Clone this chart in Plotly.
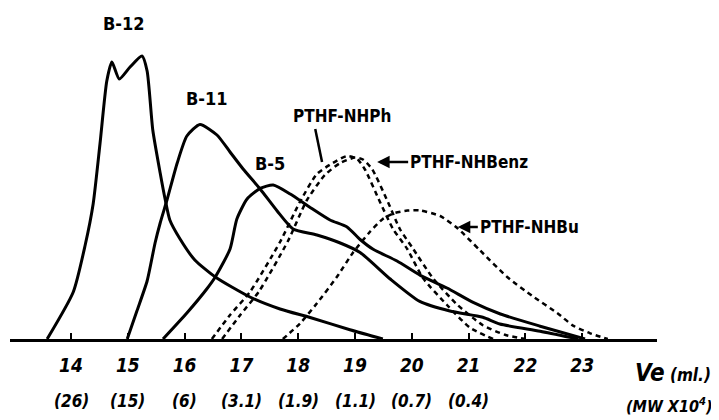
import plotly.graph_objects as go

# ---------------- data (elution volume Ve in ml, detector response in arbitrary units) -------------
b12_ve = [13.58, 14.04, 14.25, 14.39, 14.51, 14.63, 14.72, 14.85, 15.04, 15.25, 15.34, 15.44,
          15.57, 15.66, 15.74, 15.92, 16.18, 16.54, 17.15, 17.68, 18.21, 18.91, 19.49]
b12_h = [0, 47, 94, 135, 195, 258, 277, 260, 272, 283, 268, 209,
         166, 139, 119, 100, 79, 62, 42, 30, 21.5, 9.3, 0]

b11_ve = [14.99, 15.16, 15.34, 15.48, 15.57, 15.69, 15.87, 16.04, 16.27, 16.57, 16.80, 17.03,
          17.33, 17.63, 17.91, 18.33, 18.74, 19.09, 19.62, 20.14, 20.67, 21.25, 21.55, 22.26, 22.93]
b11_h = [0, 28, 58, 96, 116, 139, 176, 203, 214.5, 204, 187, 170,
         150, 128, 110, 104, 96, 86.5, 60, 37.6, 28, 21.8, 15, 7.8, 0]

b5_ve = [15.62, 16.04, 16.39, 16.54, 16.80, 16.92, 17.10, 17.33, 17.56, 17.86, 18.21, 18.56,
         18.86, 19.09, 19.32, 19.74, 20.15, 20.62, 21.08, 21.56, 22.26, 23.05]
b5_h = [0, 26, 50, 62, 90, 120, 140, 150.6, 154, 145, 131.6, 119,
        112, 99.5, 89.7, 78, 63.6, 51, 36.6, 25, 12.8, 0]

nhph_ve = [16.48, 16.80, 17.15, 17.68, 18.03, 18.33, 18.61, 18.86, 19.04, 19.18, 19.44, 19.67,
           19.92, 20.20, 20.62, 21.02, 21.43]
nhph_h = [0, 24, 47, 97, 137, 165, 176, 183, 180, 169, 137, 110,
          90, 60.6, 34, 11.5, 0]

nhbenz_ve = [16.66, 16.98, 17.31, 17.82, 18.15, 18.47, 18.74, 19.00, 19.14, 19.30, 19.58, 19.79,
             20.02, 20.37, 20.80, 21.25, 21.64, 22.00]
nhbenz_h = [0, 24, 47.6, 98, 138.5, 164, 176, 181.4, 179.5, 170, 137, 110,
            90.5, 61, 34.3, 13.8, 4.2, 0]

nhbu_ve = [17.73, 18.03, 18.33, 18.68, 18.96, 19.26, 19.49, 19.70, 19.92, 20.14, 20.50, 20.80,
           21.20, 21.68, 22.13, 22.56, 22.84, 23.14, 23.45]
nhbu_h = [0, 15.4, 35.7, 62, 86, 107, 120, 126, 128.4, 128.6, 123, 111,
          88.7, 62, 42.7, 26, 13.4, 5.7, 0]

ve_ticks = [14, 15, 16, 17, 18, 19, 20, 21, 22, 23]
ve_ticktext = ["14", "15", "16", "17", "18", "19", "20", "21", "22", "23"]
mw_ve = [14, 15, 16, 17, 18, 19, 20, 21]
mw_text = ["(26)", "(15)", "(6)", "(3.1)", "(1.9)", "(1.1)", "(0.7)", "(0.4)"]

# ---------------- figure -------------
# The page body has an 8 px default margin, so the figure is made 8 px smaller
# in each direction to fill the 719x420 window exactly.
FONT = "DejaVu Sans Condensed, Liberation Sans Narrow, DejaVu Sans, sans-serif"

fig = go.Figure()

solid = dict(color="black", width=3, shape="spline", smoothing=0.6)
dashed = dict(color="black", width=2.5, shape="spline", smoothing=0.6, dash="5px,4px")

fig.add_trace(go.Scatter(x=b12_ve, y=b12_h, mode="lines", line=solid, name="B-12"))
fig.add_trace(go.Scatter(x=b11_ve, y=b11_h, mode="lines", line=solid, name="B-11"))
fig.add_trace(go.Scatter(x=b5_ve, y=b5_h, mode="lines", line=solid, name="B-5"))
fig.add_trace(go.Scatter(x=nhph_ve, y=nhph_h, mode="lines", line=dashed, name="PTHF-NHPh"))
fig.add_trace(go.Scatter(x=nhbenz_ve, y=nhbenz_h, mode="lines", line=dashed, name="PTHF-NHBenz"))
fig.add_trace(go.Scatter(x=nhbu_ve, y=nhbu_h, mode="lines", line=dashed, name="PTHF-NHBu"))

lab_font = dict(family=FONT, size=18, color="black", weight="bold")
pt_font = dict(family=FONT, size=17, color="black", weight="bold")

annotations = [
    dict(x=14.93, y=316, text="B-12", showarrow=False, font=lab_font),
    dict(x=16.39, y=241, text="B-11", showarrow=False, font=lab_font),
    dict(x=17.50, y=176, text="B-5", showarrow=False, font=lab_font),
    dict(x=18.77, y=223, text="PTHF-NHPh", showarrow=False, font=pt_font),
    dict(x=19.39, y=177, text="PTHF-NHBenz", showarrow=True, arrowhead=2, arrowsize=1,
         arrowwidth=2.5, arrowcolor="black", ax=31, ay=0, xanchor="left", font=pt_font),
    dict(x=20.81, y=112, text="PTHF-NHBu", showarrow=True, arrowhead=2, arrowsize=1,
         arrowwidth=2.5, arrowcolor="black", ax=20, ay=0, xanchor="left", font=pt_font),
]

mw_font = dict(family=FONT, size=17, color="black", weight="bold", style="italic")
for v, t in zip(mw_ve, mw_text):
    annotations.append(dict(x=v, xref="x", y=-0.187, yref="paper", text=t,
                            showarrow=False, font=mw_font, yanchor="middle"))

annotations.append(dict(x=1.087, y=-0.103, xref="paper", yref="paper",
                        text='<span style="font-size:24px">Ve</span> (ml.)',
                        showarrow=False, xanchor="right", yanchor="middle",
                        font=dict(family=FONT, size=17, color="black", weight="bold", style="italic")))
annotations.append(dict(x=1.090, y=-0.202, xref="paper", yref="paper",
                        text="(MW X10<sup>4</sup>)", showarrow=False, xanchor="right", yanchor="middle",
                        font=dict(family=FONT, size=16, color="black", weight="bold", style="italic")))

# pointer from the PTHF-NHPh label to its curve
shapes = [dict(type="line", xref="x", yref="y", x0=18.30, y0=210, x1=18.42, y1=177,
               line=dict(color="black", width=2.5))]

fig.update_layout(
    width=711, height=412,
    margin=dict(l=2, r=62, t=0, b=81),
    paper_bgcolor="white", plot_bgcolor="white",
    showlegend=False,
    annotations=annotations,
    shapes=shapes,
    xaxis=dict(range=[12.926, 24.317], showgrid=False, zeroline=False,
               showline=True, linecolor="black", linewidth=3,
               ticks="inside", ticklen=6, tickwidth=2, tickcolor="black",
               tickvals=ve_ticks, ticktext=ve_ticktext, ticklabelstandoff=7,
               tickfont=dict(family=FONT, size=19, color="black", weight="bold", style="italic")),
    yaxis=dict(range=[0, 331], visible=False, showgrid=False, zeroline=False),
)

fig.write_html("out.html")
